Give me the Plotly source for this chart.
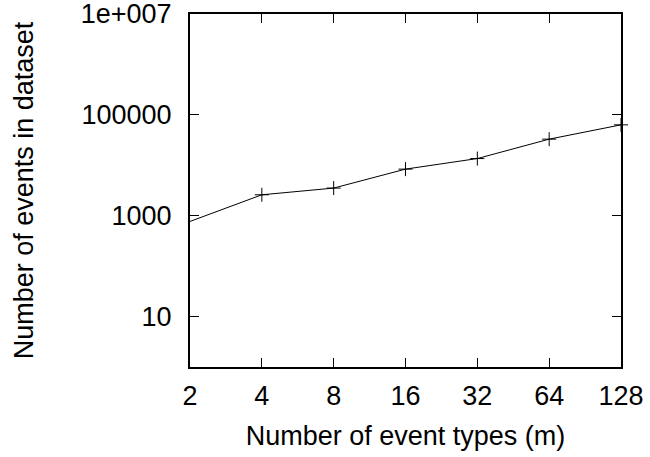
import plotly.graph_objects as go
import math

event_types = [2, 4, 8, 16, 32, 64, 128]
num_events = [770, 2600, 3530, 8400, 13600, 33000, 63400]

x_tick_vals = [2, 4, 8, 16, 32, 64, 128]
x_tick_text = ["2", "4", "8", "16", "32", "64", "128"]
y_tick_vals = [10, 1000, 100000, 10000000]
y_tick_text = ["10", "1000", "100000", "1e+007"]

FONT = "Liberation Sans, Arial, sans-serif"
FS = 27

fig = go.Figure()
fig.add_trace(go.Scatter(
    x=event_types, y=num_events, mode="lines+markers",
    line=dict(color="black", width=1),
    marker=dict(symbol="cross-thin", size=10, line=dict(color="black", width=1), color="black"),
    showlegend=False, cliponaxis=False,
))

fig.update_layout(
    width=650, height=457,
    margin=dict(l=190, r=29, t=14, b=90),
    paper_bgcolor="white", plot_bgcolor="white",
    font=dict(family=FONT, size=FS, color="black"),
)
fig.update_xaxes(
    type="log", range=[math.log10(2), math.log10(128)],
    tickvals=x_tick_vals, ticktext=x_tick_text,
    ticks="inside", ticklen=9, tickwidth=1, tickcolor="black",
    showline=True, linecolor="black", linewidth=2, mirror="ticks",
    showgrid=False, zeroline=False, automargin=False,
    ticklabelstandoff=4, ticklabeloverflow="allow",
    title=dict(text="Number of event types (m)", font=dict(size=FS), standoff=16),
    tickfont=dict(size=FS),
)
fig.update_yaxes(
    type="log", range=[-0.0005, 7.0005],
    tickvals=y_tick_vals, ticktext=y_tick_text,
    ticks="inside", ticklen=9, tickwidth=1, tickcolor="black",
    showline=True, linecolor="black", linewidth=2, mirror="ticks",
    showgrid=False, zeroline=False, automargin=False,
    ticklabelstandoff=11, ticklabeloverflow="allow",
    title=dict(text="Number of events in dataset", font=dict(size=FS), standoff=39),
    tickfont=dict(size=FS),
)

fig.write_html("out.html", config={"displayModeBar": False},
               post_script="document.body.style.margin='0';document.body.style.overflow='hidden';")
